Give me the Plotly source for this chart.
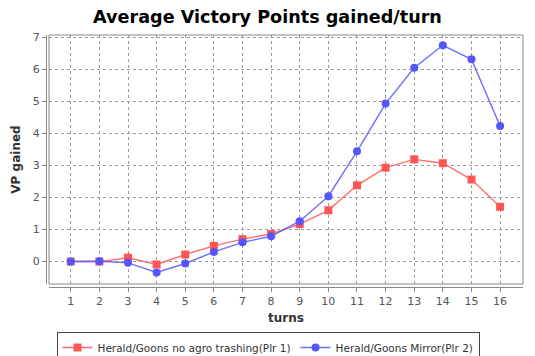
import plotly.graph_objects as go

turns = list(range(1, 17))
tick_labels = [str(t) for t in turns]
series1_name = "Herald/Goons no agro trashing(Plr 1)"
series1 = [0.0, 0.0, 0.12, -0.09, 0.22, 0.49, 0.70, 0.86, 1.17, 1.60, 2.38, 2.93, 3.19, 3.07, 2.56, 1.71]
series2_name = "Herald/Goons Mirror(Plr 2)"
series2 = [0.0, 0.01, -0.04, -0.34, -0.06, 0.30, 0.60, 0.79, 1.26, 2.04, 3.44, 4.93, 6.05, 6.75, 6.31, 4.23]
y_ticks = [0, 1, 2, 3, 4, 5, 6, 7]

RED = "#FF5555"
BLUE = "#5555FF"
FONT = "DejaVu Sans"

fig = go.Figure()
fig.add_trace(go.Scatter(
    x=turns, y=series1, name=series1_name, mode="lines+markers",
    line=dict(color="rgba(255,85,85,0.85)", width=1.4),
    marker=dict(symbol="square", size=8, color=RED),
))
fig.add_trace(go.Scatter(
    x=turns, y=series2, name=series2_name, mode="lines+markers",
    line=dict(color="rgba(85,85,255,0.85)", width=1.4),
    marker=dict(symbol="circle", size=8, color=BLUE),
))

# page body has an 8px default margin, so the figure is laid out 8px in from the top-left
OFF = 8
W, H = 535 - OFF, 356 - OFF
ml, mr, mt, mb = 46 - OFF, 12, 35 - OFF, 69
pw, ph = W - ml - mr, H - mt - mb

fig.update_layout(
    width=W, height=H,
    margin=dict(l=ml, r=mr, t=mt, b=mb, pad=0, autoexpand=False),
    paper_bgcolor="white", plot_bgcolor="white",
    title=dict(text="<b>Average Victory Points gained/turn</b>",
               font=dict(family=FONT, size=17.6, color="black"),
               x=(267.5 - OFF) / W, xref="container", xanchor="center",
               y=1 - (17 - OFF) / H, yref="container", yanchor="middle"),
    font=dict(family=FONT, color="#444"),
    xaxis=dict(
        domain=[3 / pw, 1], range=[0.24, 16.8],
        tickmode="array", tickvals=turns, ticktext=tick_labels,
        showline=True, linecolor="#888", linewidth=1,
        ticks="outside", ticklen=4, tickcolor="#888",
        tickfont=dict(family=FONT, size=11, color="#555"),
        showgrid=True, gridcolor="#999", griddash="dot", gridwidth=1,
        zeroline=False, anchor="free", position=0,
        title=dict(text="<b>turns</b>", font=dict(family=FONT, size=12, color="#333"), standoff=6),
    ),
    yaxis=dict(
        domain=[3 / ph, 1], range=[-0.70, 7.07],
        tickmode="array", tickvals=y_ticks,
        showline=True, linecolor="#888", linewidth=1,
        ticks="outside", ticklen=4, tickcolor="#888",
        tickfont=dict(family=FONT, size=11, color="#555"),
        showgrid=True, gridcolor="#999", griddash="dot", gridwidth=1,
        zeroline=False, anchor="free", position=0,
        title=dict(text="<b>VP gained</b>", font=dict(family=FONT, size=12, color="#333"), standoff=8),
    ),
    legend=dict(
        orientation="h", x=(268 - 46) / pw, xanchor="center", xref="paper",
        y=-(332 - 287) / ph, yanchor="top",
        bordercolor="#444", borderwidth=1, bgcolor="white",
        font=dict(family=FONT, size=10.5, color="#333"),
        itemwidth=30, tracegroupgap=0,
    ),
    showlegend=True,
)

fig.add_shape(type="rect", xref="x domain", yref="y domain", x0=0, x1=1, y0=0, y1=1,
              line=dict(color="#888", width=1), layer="above")

fig.write_html("out.html")
